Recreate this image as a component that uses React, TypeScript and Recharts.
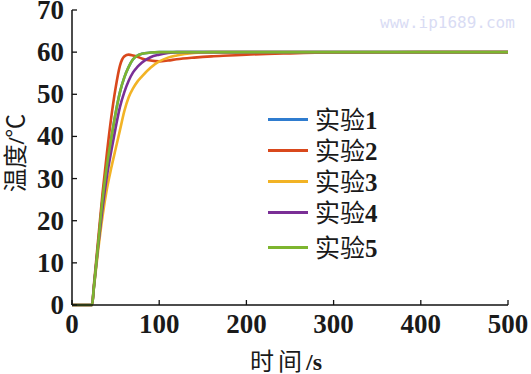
import React from 'react';
import { LineChart, Line, XAxis, YAxis, Legend } from 'recharts';

const time = [0, 23, 25, 30, 35, 40, 45, 50, 55, 60, 65, 70, 75, 80, 90, 100, 110, 120, 140, 160, 180, 200, 250, 300, 400, 500];
const exp1 = [0, 0, 4, 14.5, 25, 33, 39.5, 45.5, 50.5, 54, 56.5, 58.3, 59.2, 59.6, 59.9, 60, 60, 60, 60, 60, 60, 60, 60, 60, 60, 60];
const exp2 = [0, 0, 4.5, 15.5, 26.5, 36, 44.5, 51.5, 56.8, 59, 59.4, 59.2, 58.9, 58.5, 58, 57.8, 58, 58.3, 58.7, 59, 59.2, 59.4, 59.7, 59.9, 60, 60];
const exp3 = [0, 0, 3.8, 13, 21, 27.5, 32.5, 37, 41.5, 46, 49.3, 51.4, 53, 54.2, 56.3, 57.8, 58.7, 59.2, 59.8, 60, 60, 60, 60, 60, 60, 60];
const exp4 = [0, 0, 4, 14, 23, 30.5, 36.5, 42, 47, 50.5, 53.2, 55.2, 56.5, 57.5, 58.8, 59.4, 59.8, 60, 60, 60, 60, 60, 60, 60, 60, 60];
const exp5 = [0, 0, 4, 14.5, 25, 33, 39.5, 45.5, 50.5, 54, 56.5, 58.3, 59.2, 59.6, 59.9, 60, 60, 60, 60, 60, 60, 60, 60, 60, 60, 60];

const xTicks = [0, 100, 200, 300, 400, 500];
const yTicks = [0, 10, 20, 30, 40, 50, 60, 70];

const seriesNames = ['实验1', '实验2', '实验3', '实验4', '实验5'];
const seriesKeys = ['e1', 'e2', 'e3', 'e4', 'e5'];
const seriesColors = ['#2f7ccf', '#d9481c', '#f2b325', '#7a2f96', '#7db52f'];

const data = time.map((t, i) => ({
  t,
  e1: exp1[i],
  e2: exp2[i],
  e3: exp3[i],
  e4: exp4[i],
  e5: exp5[i],
}));

const numFont = '"Liberation Serif", "Times New Roman", serif';
const cjkFont = '"Noto Sans CJK SC", sans-serif';

const XTickBottom = (props: any) => {
  const { x, y, payload } = props;
  return (
    <g>
      <line x1={x} x2={x} y1={y} y2={y - 5} stroke="#111" strokeWidth={1.3} />
      <text x={x} y={y + 28} textAnchor="middle" fontFamily={numFont} fontWeight="bold" fontSize={27} fill="#1a1a1a">
        {payload.value}
      </text>
    </g>
  );
};

const XTickTop = (props: any) => {
  const { x, y } = props;
  return <line x1={x} x2={x} y1={y} y2={y + 5} stroke="#111" strokeWidth={1.3} />;
};

const YTickLeft = (props: any) => {
  const { x, y, payload } = props;
  return (
    <g>
      <line x1={x} x2={x + 5} y1={y} y2={y} stroke="#111" strokeWidth={1.3} />
      <text x={x - 8} y={y + 9} textAnchor="end" fontFamily={numFont} fontWeight="bold" fontSize={27} fill="#1a1a1a">
        {payload.value}
      </text>
    </g>
  );
};

const YTickRight = (props: any) => {
  const { x, y } = props;
  return <line x1={x} x2={x - 5} y1={y} y2={y} stroke="#111" strokeWidth={1.3} />;
};

const XTitle = () => (
  <text x={286} y={370} textAnchor="middle" fontSize={24} fill="#1a1a1a">
    <tspan fontFamily={cjkFont} letterSpacing={4}>时间</tspan>
    <tspan fontFamily={numFont} fontWeight="bold">/s</tspan>
  </text>
);

const YTitle = () => (
  <text x={0} y={0} transform="translate(24,153) rotate(-90)" textAnchor="middle" fontSize={24} fill="#1a1a1a">
    <tspan fontFamily={cjkFont}>温度</tspan>
    <tspan fontFamily={numFont} fontWeight="bold">/</tspan>
    <tspan fontFamily={cjkFont}>℃</tspan>
  </text>
);

const LegendContent = (props: any) => {
  const { payload } = props;
  return (
    <div>
      {(payload || []).map((p: any, i: number) => (
        <div
          key={i}
          style={{
            display: 'flex',
            alignItems: 'center',
            height: 31,
            marginTop: i === 4 ? 4 : 0,
          }}
        >
          <div style={{ width: 40, height: 3, background: p.color, marginRight: 7 }} />
          <span style={{ fontSize: 25, color: '#1a1a1a', lineHeight: '31px', whiteSpace: 'nowrap' }}>
            {String(p.value).slice(0, 2)}
            <b style={{ fontFamily: numFont }}>{String(p.value).slice(2)}</b>
          </span>
        </div>
      ))}
    </div>
  );
};

export default function App() {
  return (
    <div style={{ position: 'absolute', left: 0, top: 0, width: 531, height: 374, background: '#fff', fontFamily: cjkFont }}>
      <LineChart width={531} height={374} data={data} margin={{ top: 10, right: 23, bottom: 0, left: 0 }}>
        <XAxis
          xAxisId="b"
          dataKey="t"
          type="number"
          domain={[0, 500]}
          ticks={xTicks}
          orientation="bottom"
          height={69}
          tickSize={0}
          tickMargin={0}
          tickLine={false}
          axisLine={{ stroke: '#111', strokeWidth: 1.5 }}
          tick={<XTickBottom />}
          interval={0}
          label={<XTitle />}
        />
        <XAxis
          xAxisId="top"
          dataKey="t"
          type="number"
          domain={[0, 500]}
          ticks={xTicks}
          orientation="top"
          height={0}
          tickSize={0}
          tickMargin={0}
          tickLine={false}
          axisLine={{ stroke: '#111', strokeWidth: 1.5 }}
          tick={<XTickTop />}
          interval={0}
        />
        <YAxis
          yAxisId="l"
          type="number"
          domain={[0, 70]}
          ticks={yTicks}
          orientation="left"
          width={72}
          tickSize={0}
          tickMargin={0}
          tickLine={false}
          axisLine={{ stroke: '#111', strokeWidth: 1.5 }}
          tick={<YTickLeft />}
          interval={0}
          label={<YTitle />}
        />
        <YAxis
          yAxisId="r"
          type="number"
          domain={[0, 70]}
          ticks={yTicks}
          orientation="right"
          width={0}
          tickSize={0}
          tickMargin={0}
          tickLine={false}
          axisLine={{ stroke: '#111', strokeWidth: 1.5 }}
          tick={<YTickRight />}
          interval={0}
        />
        <Legend
          layout="horizontal"
          verticalAlign="middle"
          content={<LegendContent />}
          wrapperStyle={{ left: 268, top: 104, width: 140, height: 170 }}
        />
        {seriesKeys.map((k, i) => (
          <Line
            key={k}
            xAxisId="b"
            yAxisId="l"
            type="monotone"
            dataKey={k}
            name={seriesNames[i]}
            stroke={seriesColors[i]}
            strokeWidth={2.6}
            dot={false}
            activeDot={false}
            isAnimationActive={false}
          />
        ))}
      </LineChart>
      <div
        style={{
          position: 'absolute',
          left: 380,
          top: 13,
          fontFamily: '"DejaVu Sans Mono", monospace',
          fontSize: 16,
          color: '#d9dcf4',
          whiteSpace: 'nowrap',
        }}
      >
        www.ip1689.com
      </div>
    </div>
  );
}
